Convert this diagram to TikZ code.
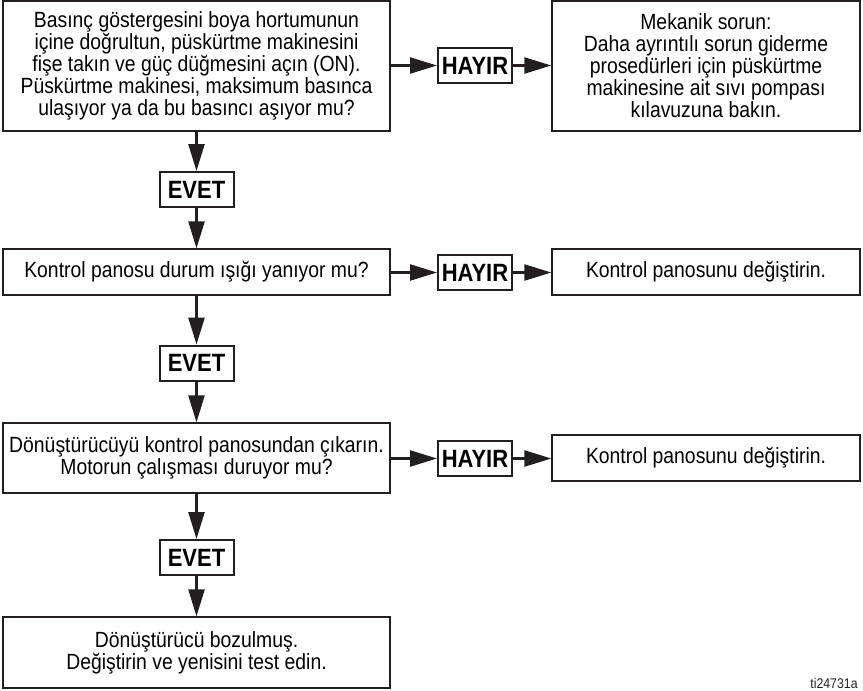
\documentclass[tikz,border=0pt]{standalone}
\usepackage{fontspec}
\setmainfont{Liberation Sans}[FakeStretch=0.88]
\usetikzlibrary{arrows.meta}
\begin{document}
\begin{tikzpicture}[x=1pt, y=-1pt,
		>={Triangle[length=27pt, width=16pt]},
		font=\fontsize{22}{22}\selectfont,
		kutu/.style={draw=ink, line width=1.3pt, inner sep=0pt, align=center, minimum width=387pt},
		sagkutu/.style={kutu, minimum width=308pt},
		cevap/.style={draw=ink, line width=2pt, inner sep=0pt, minimum width=74pt, minimum height=35pt, font=\fontsize{25}{25}\selectfont\bfseries},
		ok/.style={->, line width=2.4pt, draw=ink, fill=ink}]
	\definecolor{ink}{RGB}{35, 31, 32}
	\useasboundingbox (0,0) rectangle (863,691);
	% sol sutun
	\node[kutu, minimum height=130pt] (soru1) at (196.5,66) {Basınç göstergesini boya hortumunun\\ içine doğrultun, püskürtme makinesini\\ fişe takın ve güç düğmesini açın (ON).\\ Püskürtme makinesi, maksimum basınca\\ ulaşıyor ya da bu basıncı aşıyor mu?};
	\node[kutu, minimum height=46pt] (soru2) at (196.5,272) {Kontrol panosu durum ışığı yanıyor mu?};
	\node[kutu, minimum height=70pt] (soru3) at (196.5,458) {Dönüştürücüyü kontrol panosundan çıkarın.\\ Motorun çalışması duruyor mu?};
	\node[kutu, minimum height=71pt] (sonuc) at (196.5,652.5) {Dönüştürücü bozulmuş.\\ Değiştirin ve yenisini test edin.};
	% evet kutulari
	\node[cevap] (evet1) at (196.5,189.5) {EVET};
	\node[cevap] (evet2) at (196.5,363) {EVET};
	\node[cevap] (evet3) at (196.5,557.5) {EVET};
	% hayir kutulari
	\node[cevap] (hayir1) at (475,65.5) {HAYIR};
	\node[cevap] (hayir2) at (475,272.5) {HAYIR};
	\node[cevap] (hayir3) at (475,458.5) {HAYIR};
	% sag sutun
	\node[sagkutu, minimum height=130pt] (cozum1) at (706,66) {Mekanik sorun:\\ Daha ayrıntılı sorun giderme\\ prosedürleri için püskürtme\\ makinesine ait sıvı pompası\\ kılavuzuna bakın.};
	\node[sagkutu, minimum height=46pt] (cozum2) at (706,272) {Kontrol panosunu değiştirin.};
	\node[sagkutu, minimum height=46pt] (cozum3) at (706,458) {Kontrol panosunu değiştirin.};
	% oklar
	\draw[ok] (soru1) -- (evet1);
	\draw[ok] (evet1) -- (soru2);
	\draw[ok] (soru2) -- (evet2);
	\draw[ok] (evet2) -- (soru3);
	\draw[ok] (soru3) -- (evet3);
	\draw[ok] (evet3) -- (sonuc);
	\draw[ok] (soru1.east |- hayir1) -- (hayir1);
	\draw[ok] (hayir1) -- (cozum1.west |- hayir1);
	\draw[ok] (soru2.east |- hayir2) -- (hayir2);
	\draw[ok] (hayir2) -- (cozum2.west |- hayir2);
	\draw[ok] (soru3.east |- hayir3) -- (hayir3);
	\draw[ok] (hayir3) -- (cozum3.west |- hayir3);
	\node[font=\fontsize{14}{14}\selectfont, text=ink] (kod) at (834,683) {ti24731a};
\end{tikzpicture}
\end{document}
